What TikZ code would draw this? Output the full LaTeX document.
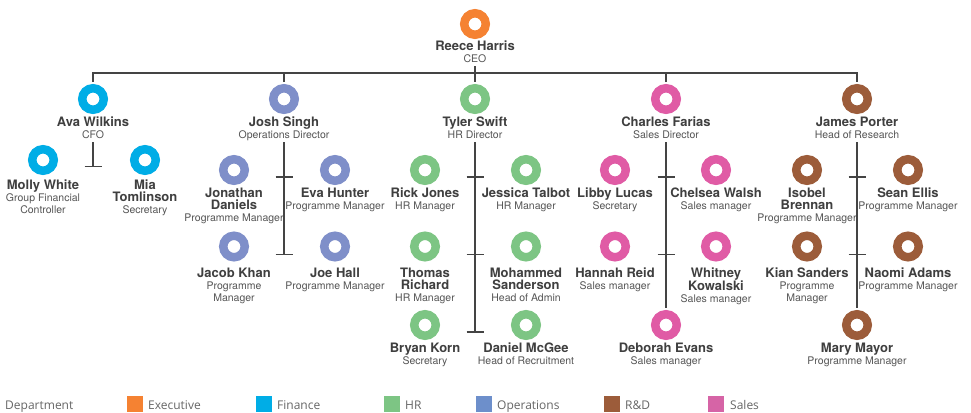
\documentclass[tikz,border=0pt]{standalone}
\usepackage{fontspec}
\setmainfont{TeX Gyre Heros}
\newfontfamily\legendfont{Open Sans}
\usetikzlibrary{calc}
\definecolor{cExec}{HTML}{F58232}
\definecolor{cFin}{HTML}{00ADE6}
\definecolor{cHR}{HTML}{7DC584}
\definecolor{cOps}{HTML}{7F8FC9}
\definecolor{cOpsL}{HTML}{6D8FCB}
\definecolor{cRD}{HTML}{9C5C3A}
\definecolor{cSales}{HTML}{E05BA5}
\definecolor{cSalesL}{HTML}{D664A6}
\definecolor{nameC}{HTML}{3F3F3F}
\definecolor{titleC}{HTML}{555555}
\definecolor{lineC}{HTML}{444444}
\definecolor{legC}{HTML}{666666}
\newcommand\nmf{\fontsize{13pt}{13pt}\selectfont\bfseries\color{nameC}}
\newcommand\tlf{\fontsize{10.5pt}{13pt}\selectfont\mdseries\color{titleC}}
% id, x, y, colour, name lines, title lines, label offset
\newcommand\pp[7]{%
  \node[ring=#4] (#1) at (#2,#3) {};
  \node[lbl] (#1-l) at (#2,#3+#7) {\nmf\rule{0pt}{10pt}#5\\\tlf #6};
}
\begin{document}
\begin{tikzpicture}[x=1pt,y=-1pt,
  ring/.style={circle, draw=#1, line width=8.5pt, minimum size=21.5pt, inner sep=0pt, outer sep=4.25pt},
  lbl/.style={anchor=north, align=center, inner sep=0pt},
  conn/.style={draw=lineC, line width=1.1pt},
  legsq/.style={minimum size=16pt, inner sep=0pt, draw=none},
  legtx/.style={anchor=base west, inner sep=0pt, text=legC, font=\legendfont\fontsize{12pt}{14pt}\selectfont}]
\useasboundingbox (0,0) rectangle (971,412);
\fill[white] (0,0) rectangle (971,412);
% people
\pp{ceo}{475}{24}{cExec}{Reece Harris}{CEO}{16.8}
\pp{ava}{93}{99}{cFin}{Ava Wilkins}{CFO}{16.8}
\pp{josh}{284}{99}{cOps}{Josh Singh}{Operations Director}{16.8}
\pp{tyler}{475}{99}{cHR}{Tyler Swift}{HR Director}{16.8}
\pp{charles}{666}{99}{cSales}{Charles Farias}{Sales Director}{16.8}
\pp{james}{857}{99}{cRD}{James Porter}{Head of Research}{16.8}
\pp{molly}{43}{160}{cFin}{Molly White}{Group Financial\\\tlf Controller}{18.8}
\pp{mia}{145}{160}{cFin}{Mia\\\nmf Tomlinson}{Secretary}{18.8}
\pp{jonathan}{234}{170}{cOps}{Jonathan\\\nmf Daniels}{Programme Manager}{17.4}
\pp{eva}{335}{170}{cOps}{Eva Hunter}{Programme Manager}{17.4}
\pp{jacob}{234}{246.5}{cOps}{Jacob Khan}{Programme\\\tlf Manager}{20.5}
\pp{joe}{335}{246.5}{cOps}{Joe Hall}{Programme Manager}{20.5}
\pp{rick}{425}{170}{cHR}{Rick Jones}{HR Manager}{17.4}
\pp{jessica}{526}{170}{cHR}{Jessica Talbot}{HR Manager}{17.4}
\pp{thomas}{425}{246.5}{cHR}{Thomas\\\nmf Richard}{HR Manager}{20.5}
\pp{mohammed}{526}{246.5}{cHR}{Mohammed\\\nmf Sanderson}{Head of Admin}{20.5}
\pp{bryan}{425}{325}{cHR}{Bryan Korn}{Secretary}{17.4}
\pp{daniel}{526}{325}{cHR}{Daniel McGee}{Head of Recruitment}{17.4}
\pp{libby}{615}{170}{cSales}{Libby Lucas}{Secretary}{17.4}
\pp{chelsea}{716}{170}{cSales}{Chelsea Walsh}{Sales manager}{17.4}
\pp{hannah}{615}{246.5}{cSales}{Hannah Reid}{Sales manager}{20.5}
\pp{whitney}{716}{246.5}{cSales}{Whitney\\\nmf Kowalski}{Sales manager}{20.5}
\pp{deborah}{666}{325}{cSales}{Deborah Evans}{Sales manager}{17.4}
\pp{isobel}{807}{170}{cRD}{Isobel\\\nmf Brennan}{Programme Manager}{17.4}
\pp{sean}{908}{170}{cRD}{Sean Ellis}{Programme Manager}{17.4}
\pp{kian}{807}{246.5}{cRD}{Kian Sanders}{Programme\\\tlf Manager}{20.5}
\pp{naomi}{908}{246.5}{cRD}{Naomi Adams}{Programme Manager}{20.5}
\pp{mary}{857}{325}{cRD}{Mary Mayor}{Programme Manager}{17.4}
% top connectors
\coordinate (bus) at ($(ceo)+(0,49)$);
\draw[conn] ($(ceo)+(0,42)$) -- ([yshift=2pt]tyler.north);
\draw[conn] ([yshift=2pt]ava.north) |- (bus) -| ([yshift=2pt]james.north);
\draw[conn] ([yshift=2pt]josh.north) -- (josh.north |- bus);
\draw[conn] ([yshift=2pt]charles.north) -- (charles.north |- bus);
% finance
\coordinate (finT) at ($(ava |- molly)+(0,6.7)$);
\draw[conn] ($(ava)+(0,43)$) -- (finT);
\draw[conn] ([xshift=-8.5pt]finT) -- ([xshift=8.5pt]finT);
% operations
\coordinate (opsT1) at ($(josh |- jonathan)+(0,7)$);
\coordinate (opsT2) at ($(josh |- jacob)+(0,8)$);
\draw[conn] ($(josh)+(0,43)$) -- (opsT2);
\draw[conn] ([xshift=-8.5pt]opsT1) -- ([xshift=8.5pt]opsT1);
\draw[conn] ([xshift=-8.5pt]opsT2) -- ([xshift=8.5pt]opsT2);
% HR
\coordinate (hrT1) at ($(tyler |- rick)+(0,7)$);
\coordinate (hrT2) at ($(tyler |- thomas)+(0,8)$);
\coordinate (hrT3) at ($(tyler |- bryan)+(0,7)$);
\draw[conn] ($(tyler)+(0,43)$) -- (hrT3);
\draw[conn] ([xshift=-8.5pt]hrT1) -- ([xshift=8.5pt]hrT1);
\draw[conn] ([xshift=-8.5pt]hrT2) -- ([xshift=8.5pt]hrT2);
\draw[conn] ([xshift=-8.5pt]hrT3) -- ([xshift=8.5pt]hrT3);
% Sales
\coordinate (saT1) at ($(charles |- libby)+(0,7)$);
\coordinate (saT2) at ($(charles |- hannah)+(0,8)$);
\draw[conn] ($(charles)+(0,43)$) -- ([yshift=2pt]deborah.north);
\draw[conn] ([xshift=-8.5pt]saT1) -- ([xshift=8.5pt]saT1);
\draw[conn] ([xshift=-8.5pt]saT2) -- ([xshift=8.5pt]saT2);
% R&D
\coordinate (rdT1) at ($(james |- isobel)+(0,7)$);
\coordinate (rdT2) at ($(james |- kian)+(0,8)$);
\draw[conn] ($(james)+(0,43)$) -- ([yshift=2pt]mary.north);
\draw[conn] ([xshift=-8.5pt]rdT1) -- ([xshift=8.5pt]rdT1);
\draw[conn] ([xshift=-8.5pt]rdT2) -- ([xshift=8.5pt]rdT2);
% legend
\node[legtx] (lgDept) at (5,409) {Department};
\node[legsq, fill=cExec] (sqExec) at (135,404) {};
\node[legtx] (lgExec) at (148,409) {Executive};
\node[legsq, fill=cFin] (sqFin) at (264,404) {};
\node[legtx] (lgFin) at (277,409) {Finance};
\node[legsq, fill=cHR] (sqHR) at (392,404) {};
\node[legtx] (lgHR) at (405,409) {HR};
\node[legsq, fill=cOpsL] (sqOps) at (484,404) {};
\node[legtx] (lgOps) at (497,409) {Operations};
\node[legsq, fill=cRD] (sqRD) at (612,404) {};
\node[legtx] (lgRD) at (625,409) {R\&D};
\node[legsq, fill=cSalesL] (sqSales) at (716,404) {};
\node[legtx] (lgSales) at (730,409) {Sales};
\end{tikzpicture}
\end{document}
